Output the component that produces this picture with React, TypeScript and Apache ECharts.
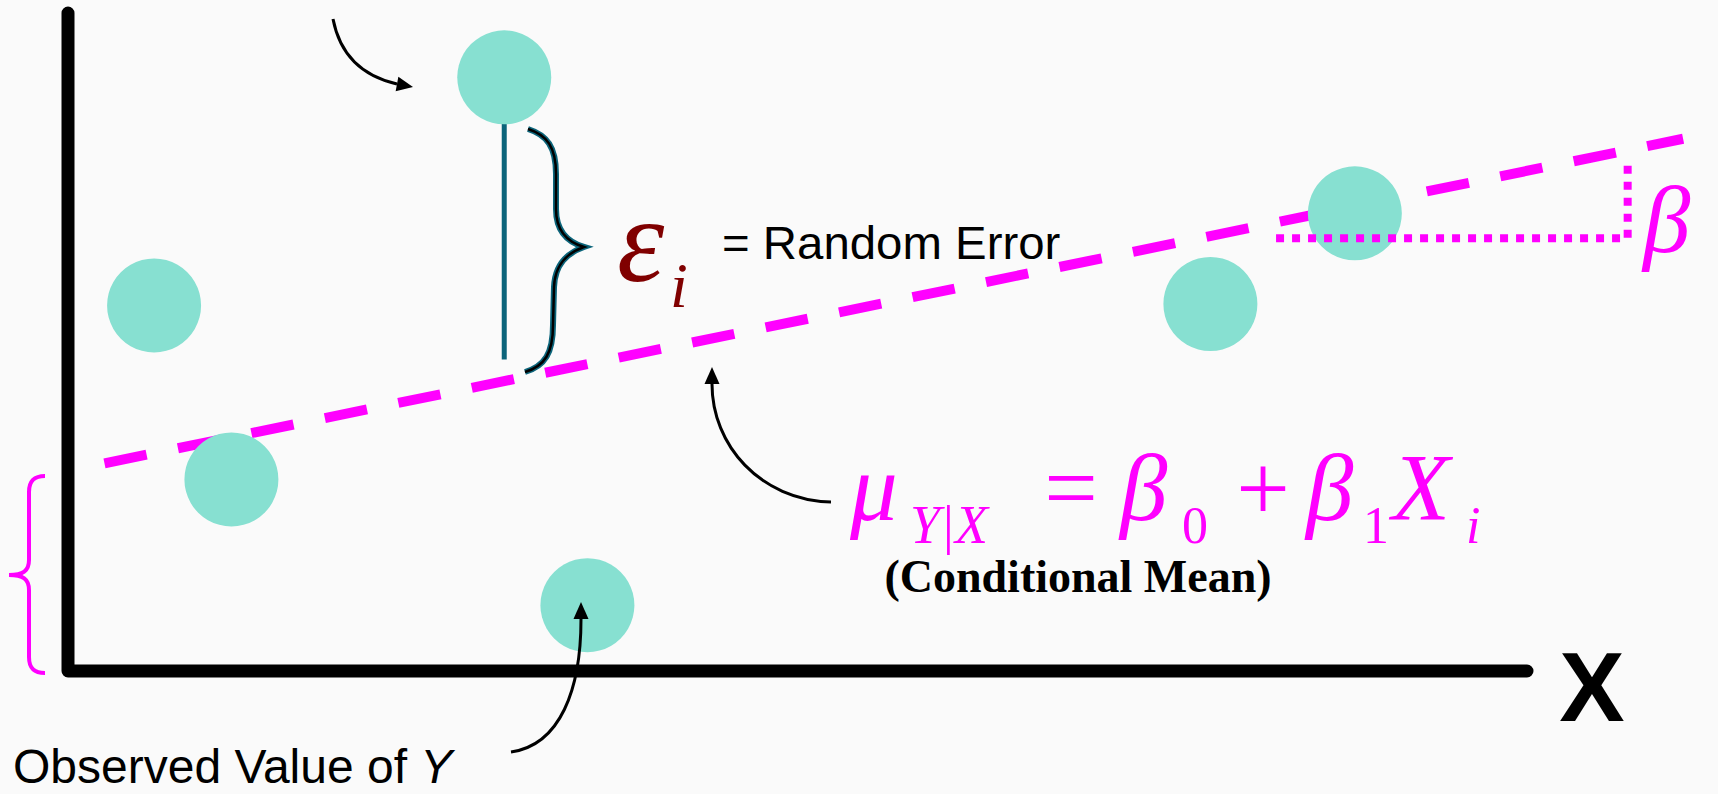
import React, { useEffect, useRef } from "react";
import * as echarts from "echarts";

// ---- data (chart units) ----
const pointX = [5.9, 11.2, 29.9, 35.6, 78.3, 88.2];
const pointY = [25.0, 13.1, 40.6, 4.5, 25.1, 31.3];
const fitX = [2.5, 110.7];
const fitY = [14.2, 36.4];
const errX = [29.9, 29.9];
const errY = [40.6, 21.3];
const slopeX = [82.8, 106.9, 106.9];
const slopeY = [29.6, 29.6, 35.0];
// the drawn L-shaped axes (y top, origin, x end)
const axesX = [0, 0, 100];
const axesY = [45, 0, 0];
const xRange = [0, 113];
const yRange = [0, 45.8];

const MAGENTA = "#FF00FF";
const TEAL_PT = "#87E0D1";
const TEAL_DK = "#0B647A";
const serif = "'Liberation Serif', 'Times New Roman', serif";
const sans = "'Liberation Sans', Arial, sans-serif";

const zip = (a: number[], b: number[]) => a.map((v, i) => [v, b[i]]);

function txt(x: number, y: number, text: string, o: any = {}) {
  return {
    type: "text",
    x,
    y,
    scaleX: o.scaleX ?? 1,
    z: 100,
    style: {
      text,
      fill: o.fill ?? MAGENTA,
      fontSize: o.size ?? 95,
      fontFamily: o.family ?? serif,
      fontStyle: o.italic ? "italic" : "normal",
      fontWeight: o.bold ? "bold" : "normal",
      align: o.align ?? "left",
      verticalAlign: "middle",
      rich: o.rich,
    },
  };
}

function arrow(
  p0: number[],
  c1: number[],
  c2: number[],
  p1: number[],
  tip: number[]
) {
  const dx = tip[0] - p1[0];
  const dy = tip[1] - p1[1];
  const len = Math.hypot(dx, dy);
  const px = (-dy / len) * 7.5;
  const py = (dx / len) * 7.5;
  return [
    {
      type: "bezierCurve",
      z: 100,
      shape: {
        x1: p0[0], y1: p0[1], cpx1: c1[0], cpy1: c1[1],
        cpx2: c2[0], cpy2: c2[1], x2: p1[0], y2: p1[1],
      },
      style: { stroke: "#000", lineWidth: 3, fill: null },
    },
    {
      type: "polygon",
      z: 100,
      shape: {
        points: [tip, [p1[0] + px, p1[1] + py], [p1[0] - px, p1[1] - py]],
      },
      style: { fill: "#000" },
    },
  ];
}

export default function App() {
  const ref = useRef<HTMLDivElement>(null);

  useEffect(() => {
    if (!ref.current) return;
    echarts.graphic.registerShape(
      "braceRight",
      echarts.graphic.extendPath(
        "M 3 0 C 22 6 31 18 31 45 L 31 80 C 31 102 42 113 59 118 C 42 124 30 135 29 158 L 28 196 C 28 224 20 237 0 243",
        {}
      )
    );
    echarts.graphic.registerShape(
      "braceLeft",
      echarts.graphic.extendPath(
        "M 36 0 C 26 0 20 4 20 16 L 20 84 C 20 95 14 99 0 99 C 14 99 20 103 20 114 L 20 181 C 20 193 26 197 36 197",
        {}
      )
    );

    const chart = echarts.init(ref.current, null, { renderer: "svg" });
    const axisCommon = {
      type: "value",
      axisLine: { show: false },
      axisTick: { show: false },
      axisLabel: { show: false },
      splitLine: { show: false },
    };

    const pxPerX = 1459 / 100;
    const pxPerY = 658 / 45;
    const gridH = (yRange[1] - yRange[0]) * pxPerY;

    const option: any = {
      animation: false,
      backgroundColor: "#FAFAFA",
      grid: {
        left: 68,
        top: 671 - gridH,
        width: (xRange[1] - xRange[0]) * pxPerX,
        height: gridH,
        outerBoundsMode: "none",
      },
      xAxis: { ...axisCommon, min: xRange[0], max: xRange[1] },
      yAxis: { ...axisCommon, min: yRange[0], max: yRange[1] },
      series: [
        {
          type: "line",
          data: zip(axesX, axesY),
          symbol: "none",
          clip: false,
          z: 1,
          lineStyle: { color: "#000", width: 13, cap: "round", join: "round" },
        },
        {
          type: "line",
          data: zip(fitX, fitY),
          symbol: "none",
          clip: false,
          z: 2,
          lineStyle: { color: MAGENTA, width: 10, type: [43, 32], cap: "butt" },
        },
        {
          type: "line",
          data: zip(errX, errY),
          symbol: "none",
          clip: false,
          z: 2,
          lineStyle: { color: TEAL_DK, width: 5 },
        },
        {
          type: "scatter",
          data: zip(pointX, pointY),
          symbolSize: 94,
          clip: false,
          z: 3,
          itemStyle: { color: TEAL_PT, opacity: 1 },
        },
        {
          type: "line",
          data: zip(slopeX, slopeY),
          symbol: "none",
          clip: false,
          z: 4,
          lineStyle: { color: MAGENTA, width: 8, type: [8, 8], cap: "butt", join: "miter" },
        },
      ],
      graphic: [
        // brace next to the error segment
        {
          type: "braceRight",
          x: 525,
          y: 129,
          z: 100,
          style: { stroke: TEAL_DK, lineWidth: 6, fill: null },
        },
        {
          type: "braceRight",
          x: 525,
          y: 129,
          z: 101,
          style: { stroke: "#000", lineWidth: 2.5, fill: null },
        },
        // intercept brace
        {
          type: "braceLeft",
          x: 9,
          y: 476,
          z: 100,
          style: { stroke: MAGENTA, lineWidth: 4, fill: null },
        },
        ...arrow([333, 19], [340, 55], [362, 76], [397, 84], [413, 87]),
        ...arrow([831, 502], [760, 500], [712, 445], [712, 384], [712, 367]),
        ...arrow([511, 752], [560, 745], [581, 690], [581, 619], [581, 602]),
        // epsilon label
        txt(617, 240, "ε", { italic: true, size: 120, fill: "#800000" }),
        txt(670, 285, "i", { italic: true, size: 64, fill: "#800000" }),
        txt(722, 243, "= Random Error", {
          family: sans,
          size: 46,
          fill: "#000",
          scaleX: 1.03,
        }),
        // slope beta
        txt(1643, 220, "β", { italic: true, size: 95 }),
        // formula
        txt(850, 488, "μ", { italic: true, size: 95 }),
        txt(910, 525, "Y|X", { italic: true, size: 54 }),
        txt(1071, 488, "=", { size: 95, align: "center" }),
        txt(1120, 488, "β", { italic: true, size: 95 }),
        txt(1195, 525, "0", { size: 52, align: "center" }),
        txt(1263, 488, "+", { size: 95, align: "center" }),
        txt(1306, 488, "β", { italic: true, size: 95 }),
        txt(1376, 525, "1", { size: 52, align: "center" }),
        txt(1392, 488, "X", { italic: true, size: 95 }),
        txt(1466, 525, "i", { italic: true, size: 52 }),
        txt(1078, 576, "(Conditional Mean)", {
          bold: true,
          size: 46,
          fill: "#000",
          align: "center",
        }),
        // axis label
        txt(1592, 687, "X", {
          family: sans,
          bold: true,
          size: 98,
          fill: "#000",
          align: "center",
        }),
        txt(13, 766, "Observed Value of {it|Y}", {
          family: sans,
          size: 48,
          fill: "#000",
          rich: {
            it: {
              fontStyle: "italic",
              fontFamily: sans,
              fontSize: 48,
              fill: "#000",
            },
          },
        }),
      ],
    };
    chart.setOption(option);
    return () => chart.dispose();
  }, []);

  return (
    <div
      ref={ref}
      style={{ position: "absolute", left: 0, top: 0, width: 1718, height: 794 }}
    />
  );
}
